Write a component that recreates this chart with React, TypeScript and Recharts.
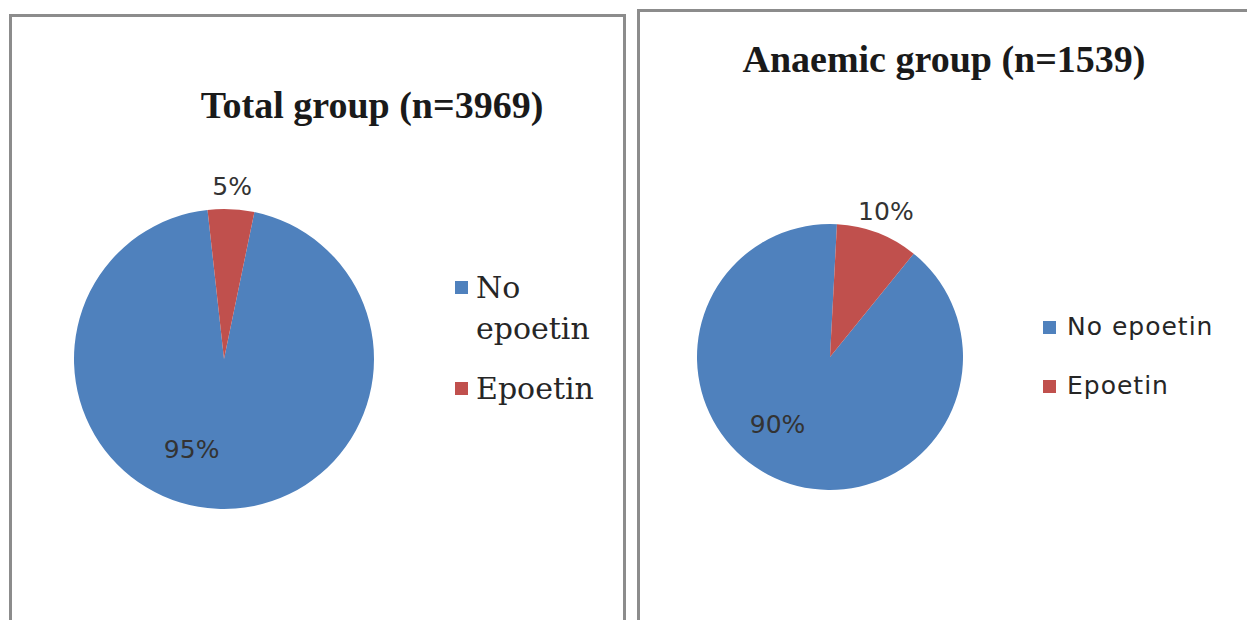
import { Cell, Legend, Pie, PieChart } from "recharts";

const categories = ["No epoetin", "Epoetin"];
const totalGroupPct = [95, 5];
const anaemicGroupPct = [90, 10];
const chartTitles = ["Total group (n=3969)", "Anaemic group (n=1539)"];
const sliceColors = ["#4F81BD", "#C0504D"];

const RAD = Math.PI / 180;
const labelFont = "'DejaVu Sans', sans-serif";

const toData = (values: number[]) => categories.map((name, i) => ({ name, value: values[i] }));

// small slice: label outside along its middle; big slice: inside, turned a bit clockwise (Excel best fit)
const renderLabel = (props: any) => {
	const { cx, cy, midAngle, outerRadius, percent, index } = props;
	const outside = index === 1;
	const r = outside ? outerRadius + 23 : outerRadius * 0.64;
	const a = (outside ? midAngle : midAngle - 17) * RAD;
	const x = cx + r * Math.cos(a);
	const y = cy - r * Math.sin(a);
	return (
		<text
			x={x}
			y={y}
			fill="#333"
			fontSize={25}
			fontFamily={labelFont}
			textAnchor="middle"
			dominantBaseline="central"
		>
			{`${Math.round(percent * 100)}%`}
		</text>
	);
};

const makeLegend =
	(opts: {
		font: string;
		size: number;
		lineHeight: number;
		gap: number;
		textWidth: number;
		squareGap: number;
		spacing: number;
	}) =>
	(props: any) => {
		// keep the series order (recharts sorts legend items by name)
		const items = [...props.payload].sort(
			(a: any, b: any) => categories.indexOf(a.value) - categories.indexOf(b.value),
		);
		return (
			<div>
				{items.map((entry: any, i: number) => (
					<div
						key={entry.value}
						style={{ display: "flex", alignItems: "flex-start", marginTop: i === 0 ? 0 : opts.gap }}
					>
						<div
							style={{
								width: 13,
								height: 13,
								background: entry.color,
								marginTop: (opts.lineHeight - 13) / 2,
								marginRight: opts.squareGap,
								flexShrink: 0,
							}}
						/>
						<div
							style={{
								width: opts.textWidth,
								fontFamily: opts.font,
								fontSize: opts.size,
								letterSpacing: opts.spacing,
								lineHeight: `${opts.lineHeight}px`,
								color: "#262626",
							}}
						>
							{entry.value}
						</div>
					</div>
				))}
			</div>
		);
	};

const leftLegend = makeLegend({
	font: "'DejaVu Serif', serif",
	size: 30,
	lineHeight: 41,
	gap: 19,
	textWidth: 130,
	squareGap: 8,
	spacing: 0,
});

const rightLegend = makeLegend({
	font: labelFont,
	size: 25,
	lineHeight: 34,
	gap: 25,
	textWidth: 190,
	squareGap: 11,
	spacing: 1,
});

const panelBorder = "3px solid #8c8c8c";

const titleStyle = {
	position: "absolute" as const,
	width: 500,
	textAlign: "center" as const,
	fontFamily: "'Liberation Serif', serif",
	fontWeight: 700,
	fontSize: 38,
	lineHeight: "37px",
	color: "#1a1a1a",
};

export default function App() {
	return (
		<div
			style={{
				position: "absolute",
				left: 0,
				top: 0,
				width: 1247,
				height: 620,
				overflow: "hidden",
				background: "#fff",
			}}
		>
			{/* Total group */}
			<div
				style={{
					position: "absolute",
					left: 9,
					top: 14,
					width: 611,
					height: 640,
					borderLeft: panelBorder,
					borderTop: panelBorder,
					borderRight: panelBorder,
				}}
			>
				<PieChart width={611} height={606} margin={{ top: 0, right: 0, bottom: 0, left: 0 }}>
					<Pie
						data={toData(totalGroupPct)}
						dataKey="value"
						nameKey="name"
						cx={212}
						cy={342}
						outerRadius={150}
						startAngle={78.3}
						endAngle={-281.7}
						stroke="none"
						label={renderLabel}
						labelLine={false}
						isAnimationActive={false}
					>
						{categories.map((c, i) => (
							<Cell key={c} fill={sliceColors[i]} />
						))}
					</Pie>
					<Legend
						layout="vertical"
						align="right"
						verticalAlign="middle"
						content={leftLegend}
						wrapperStyle={{ left: 443, top: 250, width: 165, right: "auto" }}
					/>
				</PieChart>
				<div style={{ ...titleStyle, left: 110, top: 70 }}>{chartTitles[0]}</div>
			</div>

			{/* Anaemic group */}
			<div
				style={{
					position: "absolute",
					left: 637,
					top: 9,
					width: 640,
					height: 640,
					borderLeft: panelBorder,
					borderTop: panelBorder,
					borderRight: panelBorder,
				}}
			>
				<PieChart width={620} height={611} margin={{ top: 0, right: 0, bottom: 0, left: 0 }}>
					<Pie
						data={toData(anaemicGroupPct)}
						dataKey="value"
						nameKey="name"
						cx={190}
						cy={345}
						outerRadius={133}
						startAngle={51}
						endAngle={-309}
						stroke="none"
						label={renderLabel}
						labelLine={false}
						isAnimationActive={false}
					>
						{categories.map((c, i) => (
							<Cell key={c} fill={sliceColors[i]} />
						))}
					</Pie>
					<Legend
						layout="vertical"
						align="right"
						verticalAlign="middle"
						content={rightLegend}
						wrapperStyle={{ left: 403, top: 298, width: 210, right: "auto" }}
					/>
				</PieChart>
				<div style={{ ...titleStyle, left: 54, top: 29 }}>{chartTitles[1]}</div>
			</div>
		</div>
	);
}
